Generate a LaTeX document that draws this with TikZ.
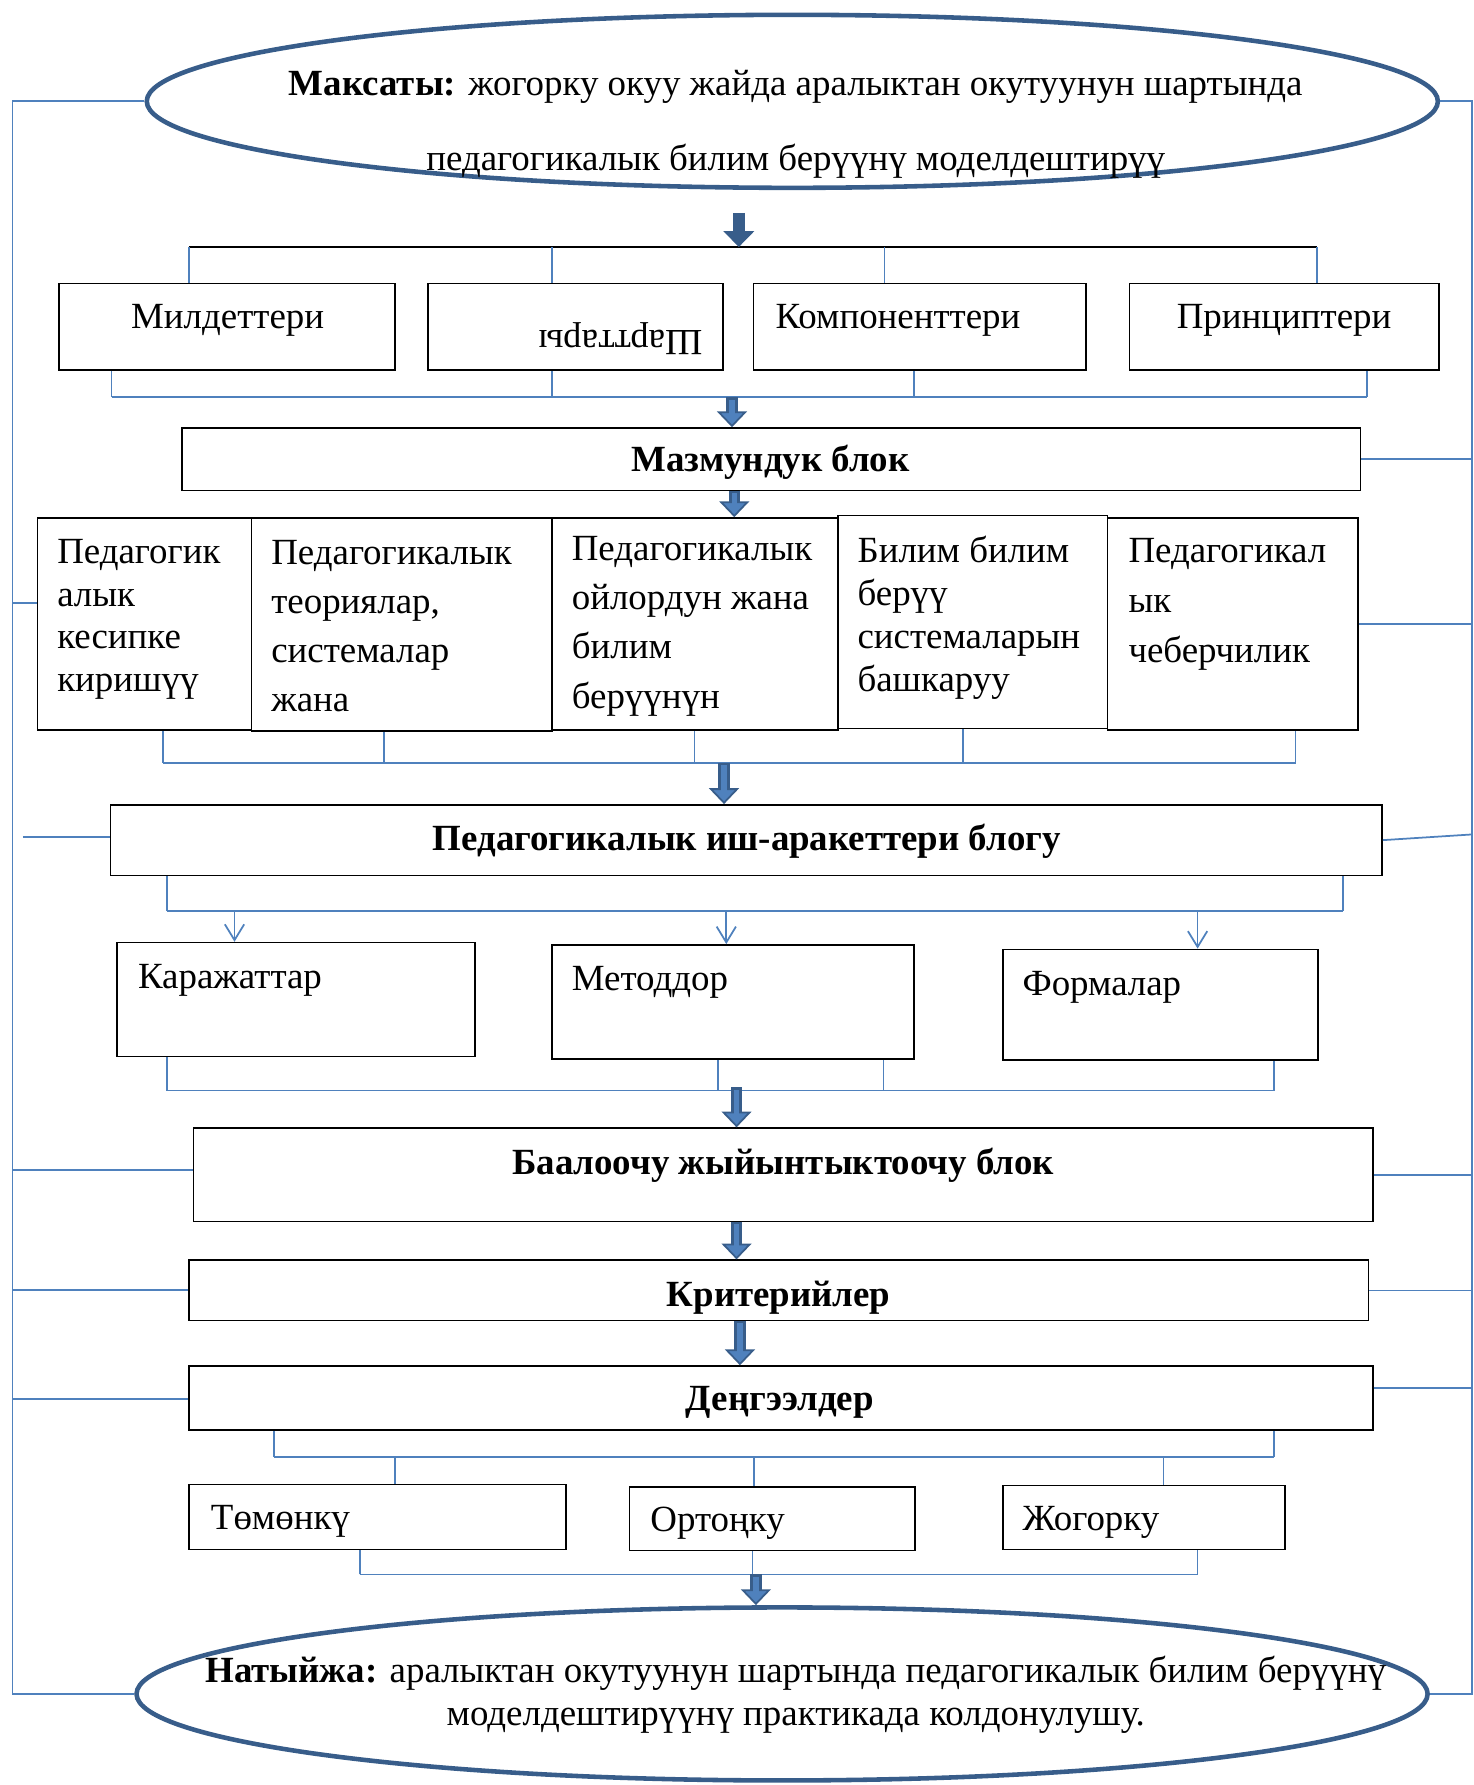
\documentclass[tikz,border=0pt]{standalone}
\usepackage{fontspec}
\setmainfont{Liberation Serif}
\usetikzlibrary{shapes.geometric,arrows.meta,fit}
\definecolor{lineblue}{HTML}{4F81BD}
\definecolor{dkblue}{HTML}{385D8A}

\tikzset{
	box/.style={draw, line width=0.9pt, inner sep=0pt},
	oval/.style={ellipse, draw=dkblue, line width=2.6pt, inner sep=0pt, minimum width=25.82cm, minimum height=3.46cm},
	plain/.style={inner sep=0pt, font=\fontsize{21}{25}\selectfont, text height=0.7em, text depth=0.22em},
	txt/.style={plain, yshift=-4.3pt},
	ttl/.style={txt, font=\fontsize{21}{25}\selectfont\bfseries},
	par/.style={inner sep=0pt, anchor=west, align=left, yshift=-2.6pt},
	link/.style={draw=lineblue, line width=1pt},
	thin/.style={link, -{Straight Barb[length=9pt,width=11pt]}},
	fat/.style={draw=dkblue, line width=6.5pt, -{Triangle[width=17pt,length=9pt,fill=lineblue,line width=1pt]},
		postaction={draw=lineblue, line width=3pt, -, shorten <=1.5pt, shorten >=4pt}},
	fatsolid/.style={draw=dkblue, line width=6.5pt, -{Triangle[width=17pt,length=9pt]}}
}

\begin{document}
\begin{tikzpicture}[x=0.022766cm, y=-0.022766cm]
	\useasboundingbox (0,0) rectangle (1294,1568);

	% goal and result
	\node [oval] (goal) at (696,89) {};
	\node [inner sep=0pt, align=center, font=\fontsize{21}{42.6}\selectfont, yshift=-1.6pt] (goalT) at (699,107)
		{\textbf{Максаты:} жогорку окуу жайда аралыктан окутуунун шартында\\ педагогикалык билим берүүнү моделдештирүү};
	\node [oval] (res) at (687,1488) {};
	\node [inner sep=0pt, align=center, font=\fontsize{21}{24.5}\selectfont, yshift=-1.6pt] (resT) at (699,1486)
		{\textbf{Натыйжа:} аралыктан окутуунун шартында педагогикалык билим берүүнү\\ моделдештирүүнү практикада колдонулушу.};

	% first row
	\node [box, fit={(52,249) (347,325)}] (mil) {};
	\node [box, fit={(376,249) (635,325)}] (shart) {};
	\node [box, fit={(662,249) (954,325)}] (komp) {};
	\node [box, fit={(992,249) (1264,325)}] (princ) {};
	\node [txt] (milT) at (200,278) {Милдеттери};
	\node [plain, rotate=180] (shartT) at (545,294) {Шарттары}; %перевернутый
	\node [txt, anchor=west] (kompT) at (681,278) {Компоненттери};
	\node [txt] (princT) at (1128,278) {Принциптери};

	% content block
	\node [box, fit={(160,376) (1195,431)}] (mazm) {};
	\node [ttl] (mazmT) at (677,404) {Мазмундук блок};

	% second row
	\node [box, fit={(33,455) (221,641)}] (kesip) {};
	\node [box, fit={(221,455) (485,642)}] (teor) {};
	\node [box, fit={(485,455) (736,641)}] (oi) {};
	\node [box, fit={(736,453) (973,640)}] (bash) {};
	\node [box, fit={(973,455) (1193,641)}] (cheber) {};
	\node [par, font=\fontsize{21}{24.3}\selectfont] (kesipT) at (50,540) {Педагогик\\ алык\\ кесипке\\ киришүү};
	\node [par, font=\fontsize{21}{28}\selectfont] (teorT) at (238,546) {Педагогикалык\\ теориялар,\\ системалар\\ жана};
	\node [par, font=\fontsize{21}{28}\selectfont] (oiT) at (502,546) {Педагогикалык\\ ойлордун жана\\ билим\\ берүүнүн};
	\node [par, font=\fontsize{21}{24.5}\selectfont] (bashT) at (753,539) {Билим билим\\ берүү\\ системаларын\\ башкаруу};
	\node [par, font=\fontsize{21}{28.4}\selectfont] (cheberT) at (991,527) {Педагогикал\\ ык\\ чеберчилик};

	% activity block
	\node [box, fit={(97,707) (1214,769)}] (ish) {};
	\node [ttl] (ishT) at (656,737) {Педагогикалык иш-аракеттери блогу};

	% third row
	\node [box, fit={(103,828) (417,928)}] (karaj) {};
	\node [box, fit={(485,830) (803,930)}] (metod) {};
	\node [box, fit={(881,834) (1158,931)}] (forma) {};
	\node [txt, anchor=west] (karajT) at (121,858) {Каражаттар};
	\node [txt, anchor=west] (metodT) at (502,860) {Методдор};
	\node [txt, anchor=west] (formaT) at (898,864) {Формалар};

	% evaluation, criteria, levels
	\node [box, fit={(170,991) (1206,1073)}] (baal) {};
	\node [ttl] (baalT) at (688,1021) {Баалоочу жыйынтыктоочу блок};
	\node [box, fit={(166,1107) (1202,1160)}] (krit) {};
	\node [ttl] (kritT) at (684,1137) {Критерийлер};
	\node [box, fit={(166,1200) (1206,1256)}] (deng) {};
	\node [ttl] (dengT) at (685,1229) {Деңгээлдер};

	% fourth row
	\node [box, fit={(166,1304) (497,1361)}] (tomon) {};
	\node [box, fit={(553,1306) (804,1362)}] (orto) {};
	\node [box, fit={(881,1305) (1129,1361)}] (jogor) {};
	\node [txt, anchor=west] (tomonT) at (185,1333) {Төмөнкү};
	\node [txt, anchor=west] (ortoT) at (571,1335) {Ортоңку};
	\node [txt, anchor=west] (jogorT) at (898,1334) {Жогорку};

	% buses
	\coordinate (bus0l) at (166,217);  \coordinate (bus0r) at (1157,217);
	\coordinate (bus1l) at (98,349);   \coordinate (bus1r) at (1201,349);
	\coordinate (bus2l) at (143,670);  \coordinate (bus2r) at (1138,670);
	\coordinate (bus3l) at (147,800);  \coordinate (bus3r) at (1180,800);
	\coordinate (bus4l) at (147,958);  \coordinate (bus4r) at (1119,958);
	\coordinate (bus5l) at (241,1280); \coordinate (bus5r) at (1119,1280);
	\coordinate (bus6l) at (316,1383); \coordinate (bus6r) at (1052,1383);

	\draw [line width=1.3pt] (bus0l) -- (bus0r); %linea negra superior
	\foreach \x/\n in {166/mil,485/shart,777/komp,1157/princ}
		\draw [link] (\x,217) -- (\x,217 |- \n.north);
	\draw [link] (bus1l) -- (bus1r);
	\foreach \x/\n in {98/mil,485/shart,803/komp,1201/princ}
		\draw [link] (\x,349) -- (\x,349 |- \n.south);
	\draw [link] (bus2l) -- (bus2r);
	\foreach \x/\n in {143/kesip,337/teor,610/oi,846/bash,1138/cheber}
		\draw [link] (\x,670) -- (\x,670 |- \n.south);
	\draw [link] (bus3l) -- (bus3r);
	\draw [link] (bus3l) -- (bus3l |- ish.south);
	\draw [link] (bus3r) -- (bus3r |- ish.south);
	\foreach \x/\n in {206/karaj,638/metod,1052/forma}
		\draw [thin] (\x,800) -- (\x,800 |- \n.north);
	\draw [link] (bus4l) -- (bus4r);
	\foreach \x/\n in {147/karaj,631/metod,776/metod,1119/forma}
		\draw [link] (\x,958) -- (\x,958 |- \n.south);
	\draw [link] (bus5l) -- (bus5r);
	\draw [link] (bus5l) -- (bus5l |- deng.south);
	\draw [link] (bus5r) -- (bus5r |- deng.south);
	\foreach \x/\n in {347/tomon,662/orto,1022/jogor}
		\draw [link] (\x,1280) -- (\x,1280 |- \n.north);
	\draw [link] (bus6l) -- (bus6r);
	\foreach \x/\n in {316/tomon,661/orto,1052/jogor}
		\draw [link] (\x,1383) -- (\x,1383 |- \n.south);

	% block arrows
	\coordinate (f0) at (649,187);
	\coordinate (f1) at (643,349);
	\coordinate (f2) at (645,431);
	\coordinate (f3) at (636,670);
	\coordinate (f4) at (647,955);
	\coordinate (f5) at (647,1073);
	\coordinate (f6) at (650,1160);
	\coordinate (f7) at (664,1383);
	\draw [fatsolid] (f0) -- (f0 |- bus0l);
	\draw [fat] (f1) -- (f1 |- mazm.north);
	\draw [fat] (f2) -- (f2 |- oi.north);
	\draw [fat] (f3) -- (f3 |- ish.north);
	\draw [fat] (f4) -- (f4 |- baal.north);
	\draw [fat] (f5) -- (f5 |- krit.north);
	\draw [fat] (f6) -- (f6 |- deng.north);
	\draw [fat] (f7) -- (f7 |- res.north);

	% feedback lines
	\coordinate (lx) at (11,0);
	\coordinate (rx) at (1293,0);
	\draw [link] (goal.west) -| (lx |- res.west) -- (res.west);
	\draw [link] (goal.east) -| (rx |- res.east) -- (res.east);
	\draw [link] (lx |- 0,530) -- (kesip.west |- 0,530);
	\draw [link] (20,735) -- (ish.west |- 0,735);
	\draw [link] (lx |- 0,1028) -- (baal.west |- 0,1028);
	\draw [link] (lx |- 0,1133) -- (krit.west |- 0,1133);
	\draw [link] (lx |- 0,1229) -- (deng.west |- 0,1229);
	\draw [link] (mazm.east) -- (rx |- mazm.east);
	\draw [link] (cheber.east) -- (rx |- cheber.east);
	\draw [link] (ish.east) -- (rx |- 0,733);
	\draw [link] (baal.east) -- (rx |- baal.east);
	\draw [link] (krit.east) -- (rx |- krit.east);
	\draw [link] (deng.east |- 0,1219) -- (rx |- 0,1219);
\end{tikzpicture}
\end{document}
